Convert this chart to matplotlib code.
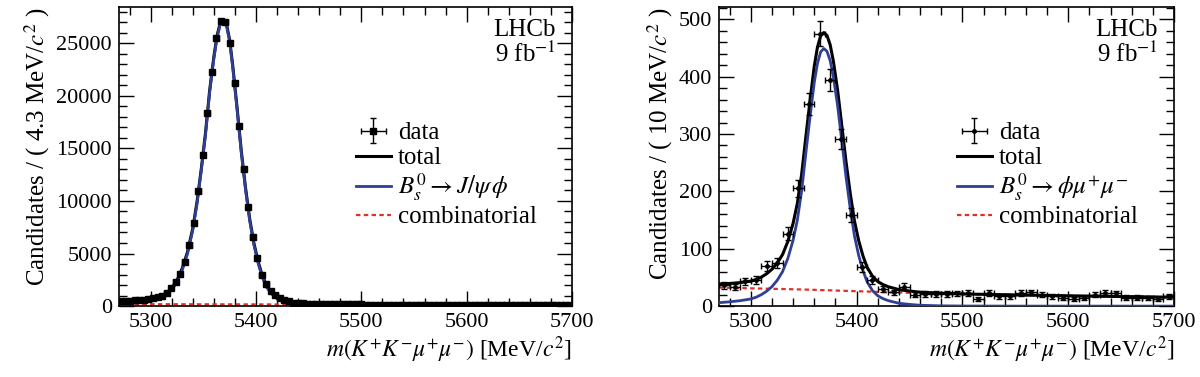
import numpy as np
import matplotlib
matplotlib.use("Agg")
from matplotlib import pyplot as plt
from matplotlib.ticker import MultipleLocator

plt.rcParams['font.family'] = ['Liberation Serif', 'DejaVu Serif']
plt.rcParams['mathtext.fontset'] = 'stix'

# ---- left panel : B_s -> J/psi phi, 4.3 MeV bins from 5270 to 5700
jpsi_counts = [480, 500, 520, 550, 580, 620, 680, 760, 860, 1000,
               1250, 1680, 2250, 3030, 4150, 5820, 7900, 10900, 14330, 18400,
               22250, 25480, 27070, 26970, 25000, 21200, 17170, 13040, 9460, 6540,
               4600, 2950, 2060, 1460, 1020, 730, 570, 440, 340, 280,
               250, 235, 215, 205, 200, 190, 180, 178, 170, 168,
               165, 160, 158, 155, 152, 150, 150, 146, 145, 142,
               140, 140, 137, 138, 134, 133, 132, 130, 130, 128,
               127, 128, 125, 124, 125, 122, 121, 120, 121, 118,
               118, 117, 116, 115, 116, 113, 113, 112, 112, 110,
               111, 109, 108, 108, 107, 106, 106, 105, 104, 104]

# fit curves, sampled denser around the peak
curve_mass = [5270, 5280, 5290, 5300, 5305, 5310, 5315, 5320, 5325, 5330,
              5335, 5340, 5344, 5348, 5352, 5356, 5360, 5363, 5366, 5369,
              5372, 5375, 5378, 5382, 5386, 5390, 5394, 5398, 5402, 5406,
              5410, 5415, 5420, 5425, 5430, 5440, 5450, 5460, 5480, 5500,
              5550, 5600, 5650, 5700]

jpsi_sig = [280, 325, 415, 535, 635, 800, 1060, 1540, 2270, 3420,
            4975, 7225, 9725, 12825, 16225, 20325, 23530, 25530, 26730, 26980,
            26630, 25130, 22630, 18730, 14630, 11135, 8135, 5835, 4085, 2735,
            1790, 1140, 690, 460, 310, 135, 75, 45, 20, 10,
            2, 0, 0, 0]
jpsi_comb = [190, 188, 186, 184, 183, 182, 181, 180, 179, 178,
             177, 176, 175, 174, 174, 173, 172, 171, 171, 170,
             170, 169, 168, 168, 167, 166, 165, 165, 164, 163,
             162, 161, 160, 159, 158, 156, 154, 152, 148, 144,
             135, 126, 118, 110]

# ---- right panel : B_s -> phi mu mu, 10 MeV bins
phimm_counts = [36, 33, 43, 45, 70, 76, 126, 205, 352, 475,
                394, 291, 159, 68, 46, 30, 24, 34, 20, 21,
                21, 21, 22, 23, 13, 23, 17, 17, 23, 24,
                20, 17, 15, 13, 14, 20, 23, 22, 15, 15,
                14, 13, 17]

phimm_sig = [6, 7.5, 9.5, 12.5, 15.5, 20, 26, 34, 45, 60,
             83, 115, 150, 200, 266, 330, 390, 423, 443, 449,
             444, 428, 400, 350, 288, 225, 170, 122, 88, 62,
             42, 27, 18, 13, 9.5, 5, 3, 1.5, 0.5, 0.2,
             0, 0, 0, 0]
phimm_comb = [32.5, 32, 31.5, 31, 30.8, 30.6, 30.4, 30.2, 30, 29.8,
              29.6, 29.4, 29.2, 29, 28.8, 28.6, 28.4, 28.2, 28, 27.8,
              27.7, 27.5, 27.3, 27.1, 26.8, 26.6, 26.4, 26.1, 25.9, 25.6,
              25.4, 25.1, 24.8, 24.5, 24.2, 23.8, 23.3, 22.8, 22, 21,
              19.5, 18, 16.7, 15.5]

mlo, mhi = 5270, 5700
blue = '#2f3f94'
red = '#e0302a'

fig = plt.figure(figsize=(12, 3.77), dpi=100)
axL = fig.add_axes([0.0992, 0.188, 0.3775, 0.793])
axR = fig.add_axes([0.5992, 0.188, 0.3792, 0.793])


def draw(ax, counts, binw, sig, comb, ymax, ymaj, sig_label, ms, marker):
    n = len(counts)
    centers = mlo + binw * (np.arange(n) + 0.5)
    counts = np.array(counts, dtype=float)
    sig = np.array(sig, dtype=float)
    comb = np.array(comb, dtype=float)
    total = sig + comb

    ax.plot(curve_mass, comb, color=red, lw=1.6, ls=(0, (2, 1.5)), zorder=2,
            label='combinatorial')
    ax.plot(curve_mass, total, color='black', lw=2.2, zorder=3, label='total')
    ax.plot(curve_mass, sig, color=blue, lw=2.0, zorder=4, label=sig_label)
    ax.errorbar(centers, counts, yerr=np.sqrt(counts), xerr=binw / 2,
                fmt=marker, color='black', ms=ms, elinewidth=1.0,
                capsize=2.5, capthick=1.0, zorder=5, label='data')

    ax.set_xlim(mlo, mhi)
    ax.set_ylim(0, ymax)
    ax.xaxis.set_major_locator(MultipleLocator(100))
    ax.xaxis.set_minor_locator(MultipleLocator(20))
    ax.yaxis.set_major_locator(MultipleLocator(ymaj))
    ax.yaxis.set_minor_locator(MultipleLocator(ymaj / 5))
    ax.tick_params(which='both', direction='in', top=True, right=True,
                   labelsize=16, width=1.0)
    ax.tick_params(which='major', length=11, pad=5)
    ax.tick_params(which='minor', length=6)
    for s in ax.spines.values():
        s.set_linewidth(1.2)

    ax.set_xlabel(r'$m(K^{+}K^{-}\mu^{+}\mu^{-})$ [MeV/$c^2$]', fontsize=17,
                  loc='right', labelpad=2)
    ax.set_ylabel('Candidates / ( %s MeV/$c^2$ )' % ('%g' % binw), fontsize=18,
                  loc='top', labelpad=3)

    ax.text(0.965, 0.962, 'LHCb', transform=ax.transAxes, ha='right',
            va='top', fontsize=18)
    ax.text(0.965, 0.885, r'9 fb$^{-1}$', transform=ax.transAxes, ha='right',
            va='top', fontsize=18)

    h, l = ax.get_legend_handles_labels()
    order = [l.index('data'), l.index('total'), l.index(sig_label),
             l.index('combinatorial')]
    ax.legend([h[i] for i in order], [l[i] for i in order], loc='upper left',
              bbox_to_anchor=(0.50, 0.65), frameon=False, fontsize=18,
              handlelength=1.4, handletextpad=0.3, labelspacing=0.1,
              borderaxespad=0)


draw(axL, jpsi_counts, 4.3, jpsi_sig, jpsi_comb, 28420, 5000,
     r'$B_s^0 \to J/\psi\,\phi$', 4.4, 's')
draw(axR, phimm_counts, 10, phimm_sig, phimm_comb, 521, 100,
     r'$B_s^0 \to \phi\mu^{+}\mu^{-}$', 2.5, 'o')

fig.savefig('out.png', dpi=100)
